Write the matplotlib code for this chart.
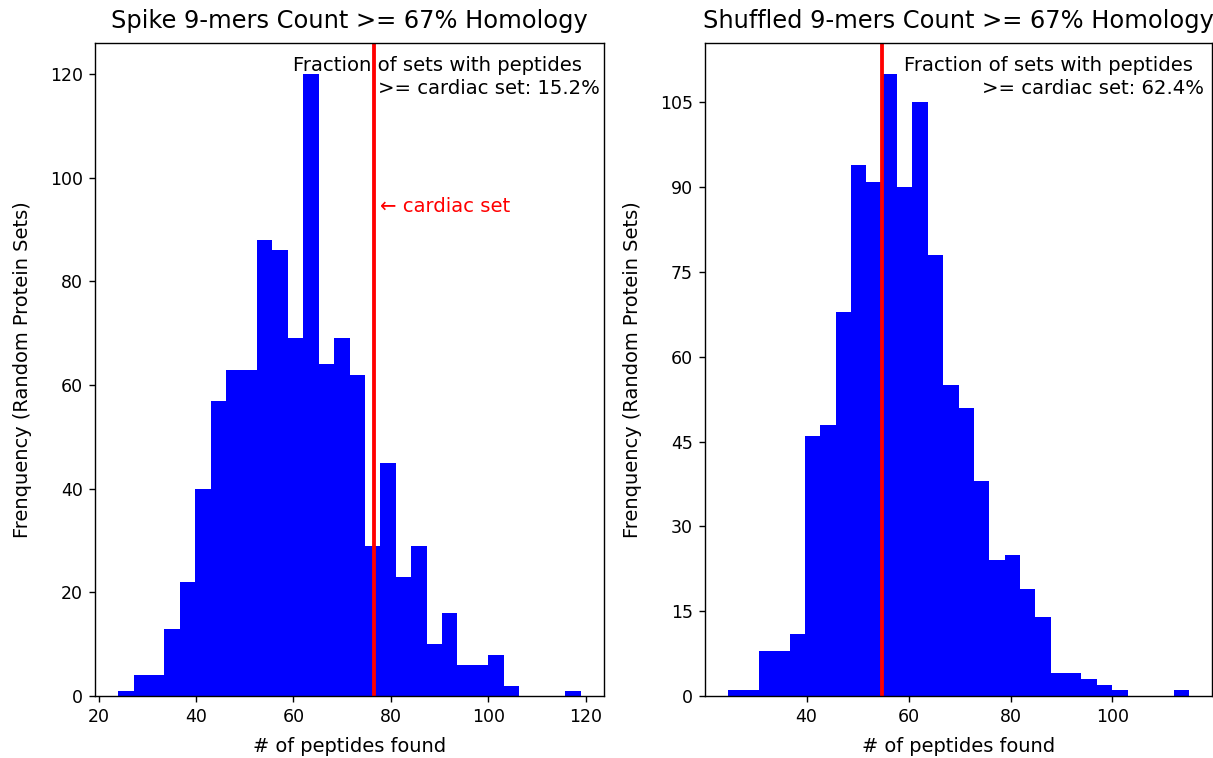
import numpy as np
import matplotlib
matplotlib.use("Agg")
import matplotlib.pyplot as plt

# ---- data ----
spike_counts = [1, 4, 4, 13, 22, 40, 57, 63, 63, 88, 86, 69, 120, 64, 69, 62,
                29, 45, 23, 29, 10, 16, 6, 6, 8, 2, 0, 0, 0, 1]
spike_min, spike_max = 24, 119
spike_cardiac = 76.5
spike_fraction = 15.2

shuffled_counts = [1, 1, 8, 8, 11, 46, 48, 68, 94, 91, 110, 90, 105, 78, 55, 51,
                   38, 24, 25, 19, 14, 4, 4, 3, 2, 1, 0, 0, 0, 1]
shuffled_min, shuffled_max = 24.6, 115.0
shuffled_cardiac = 54.85
shuffled_fraction = 62.4

titles = ["Spike 9-mers Count >= 67% Homology",
          "Shuffled 9-mers Count >= 67% Homology"]
xlabel = "# of peptides found"
ylabel = "Frenquency (Random Protein Sets)"
shuffled_yticks = [0, 15, 30, 45, 60, 75, 90, 105]

DPI = 125
fig = plt.figure(figsize=(1213 / DPI, 758 / DPI), dpi=DPI)
W, H = 1213, 758
ax1 = fig.add_axes([95 / W, (H - 696) / H, 509 / W, 653 / H])
ax2 = fig.add_axes([705 / W, (H - 696) / H, 507 / W, 653 / H])


def draw(ax, counts, lo, hi, cardiac, frac, title, l1x, l2x):
    edges = np.linspace(lo, hi, len(counts) + 1)
    centers = (edges[:-1] + edges[1:]) / 2
    ax.hist(centers, bins=edges, weights=counts, color="blue",
            histtype="stepfilled", linewidth=0)
    ax.axvline(cardiac, color="red", lw=2.2)
    ax.set_title(title, fontsize=13.9, pad=8.5)
    ax.set_xlabel(xlabel, fontsize=11.2, labelpad=6)
    ax.set_ylabel(ylabel, fontsize=11.2, labelpad=10)
    ax.tick_params(labelsize=10)
    ax.text(l1x, 0.966, "Fraction of sets with peptides", transform=ax.transAxes,
            ha="right", va="center", fontsize=11.3)
    ax.text(l2x, 0.930, ">= cardiac set: %.1f%%" % frac, transform=ax.transAxes,
            ha="right", va="center", fontsize=11.3)


draw(ax1, spike_counts, spike_min, spike_max, spike_cardiac, spike_fraction,
     titles[0], 0.957, 0.992)
draw(ax2, shuffled_counts, shuffled_min, shuffled_max, shuffled_cardiac,
     shuffled_fraction, titles[1], 0.9625, 0.985)

ax1.text(spike_cardiac + 1.3, 94.4, "\u2190 cardiac set", color="red",
         ha="left", va="center", fontsize=11.3)
ax2.set_yticks(shuffled_yticks)

fig.savefig("out.png", dpi=DPI)
